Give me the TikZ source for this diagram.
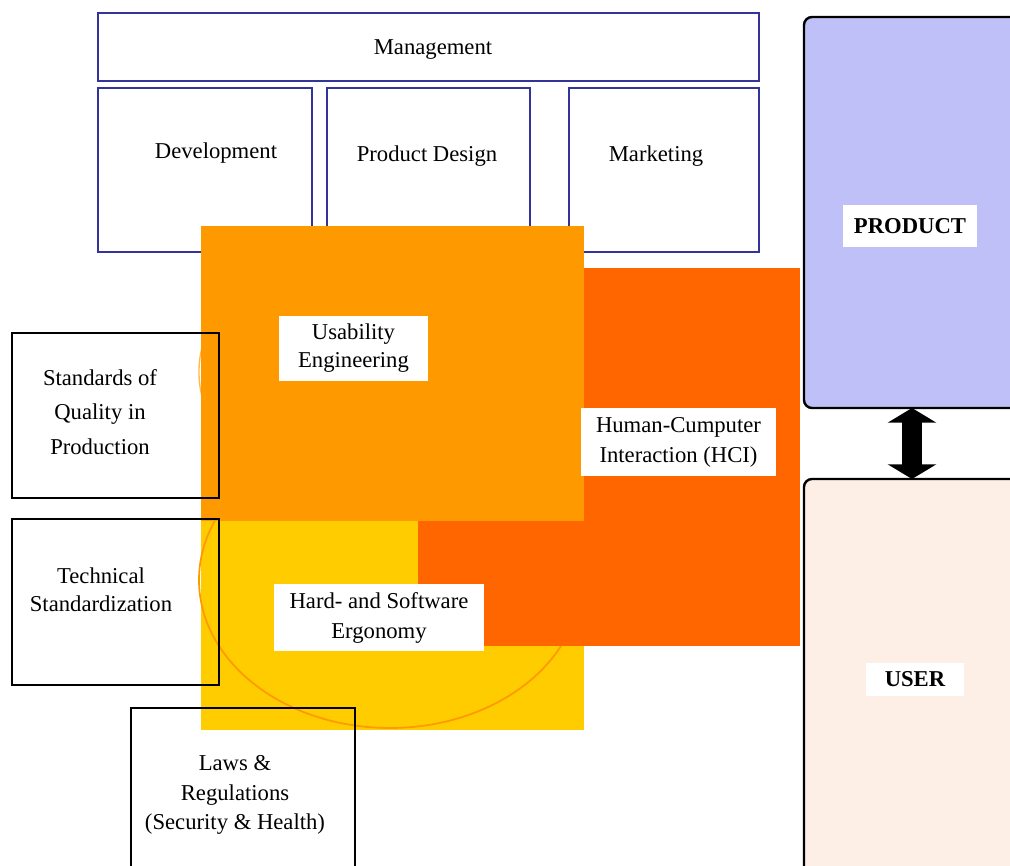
\documentclass[tikz,border=0pt]{standalone}
\usepackage{fontspec}
\setmainfont{Liberation Serif}
\usetikzlibrary{arrows.meta,fit}

\definecolor{deptblue}{RGB}{51,51,153}
\definecolor{usaorange}{RGB}{255,153,0}
\definecolor{hcired}{RGB}{255,102,0}
\definecolor{ergoyellow}{RGB}{255,204,0}
\definecolor{productblue}{RGB}{192,192,248}
\definecolor{userpeach}{RGB}{253,239,230}

\begin{document}
\begin{tikzpicture}[x=0.75pt,y=-0.75pt]

\tikzstyle{box} = [inner sep=0pt,outer sep=0pt]
\tikzstyle{dept} = [box,draw=deptblue,line width=1.2pt]
\tikzstyle{norm} = [box,draw=black,line width=1.5pt]
\tikzstyle{side} = [box,draw=black,line width=1.8pt,rounded corners=6pt]
\tikzstyle{txt} = [align=center,font=\fontsize{17}{21}\selectfont]
\tikzstyle{tag} = [txt,fill=white,inner sep=0pt]
\tikzstyle{edge} = [line width=15pt,{Triangle[length=11pt,width=36pt]}-{Triangle[length=11pt,width=36pt]}]

\clip (0,0) rectangle (1010,866);

% departments
\node[dept,fit={(98,13) (759,81)}] (mgmt) {};
\node[dept,fit={(98,88) (312,252)}] (dev) {};
\node[dept,fit={(327,88) (530,252)}] (design) {};
\node[dept,fit={(569,88) (759,252)}] (mkt) {};
\node[txt] (mgmtlabel) at (433,50) {Management};
\node[txt] (devlabel) at (216,153) {Development};
\node[txt] (designlabel) at (427,156) {Product Design};
\node[txt] (mktlabel) at (656,156) {Marketing};

% overlapping fields
\draw[usaorange!70,line width=1pt] (390,372) ellipse [x radius=191, y radius=140];
\node[box,fill=ergoyellow,fit={(201,521) (584,730)}] (ergo) {};
\draw[usaorange,line width=1.3pt] (390,580) ellipse [x radius=191, y radius=148];
\node[box,fill=hcired,fit={(418,268) (800,646)}] (hci) {};
\node[box,fill=usaorange,fit={(201,226) (584,521)}] (usa) {};

\node[tag,minimum width=112pt,minimum height=49pt] (usalabel) at (353.5,348.5)
  {Usability\\Engineering};
\node[tag,font=\fontsize{17}{22.5}\selectfont,minimum width=146pt,minimum height=51pt]
  (hcilabel) at (678.5,442) {Human-Cumputer\\Interaction (HCI)};
\node[tag,font=\fontsize{17}{22.5}\selectfont,minimum width=157.5pt,minimum height=50pt]
  (ergolabel) at (379,617.5) {Hard- and Software\\Ergonomy};

% norms and laws
\node[norm,fit={(12,333) (219,498)}] (quality) {};
\node[norm,fit={(12,519) (219,685)}] (tech) {};
\node[norm,fit={(131,708) (355,890)}] (laws) {};
\node[txt,font=\fontsize{17}{26}\selectfont] (qualitylabel) at (100,412)
  {Standards of\\Quality in\\Production};
\node[txt] (techlabel) at (101,590) {Technical\\Standardization};
\node[txt,font=\fontsize{17}{22}\selectfont] (lawslabel) at (235,795)
  {Laws \&\\Regulations\\(Security \& Health)};

% product and user
\node[side,fill=productblue,fit={(804,17) (1020,408)}] (product) {};
\node[side,fill=userpeach,fit={(804,479) (1020,880)}] (user) {};
\node[tag,font=\fontsize{17}{21}\bfseries,minimum width=100.5pt,minimum height=31.5pt]
  (productlabel) at (910,226) {PRODUCT};
\node[tag,font=\fontsize{17}{21}\bfseries,minimum width=73.5pt,minimum height=25pt]
  (userlabel) at (915,679.5) {USER};

\draw[edge] (product.south -| 912,0) -- (user.north -| 912,0);

\end{tikzpicture}
\end{document}
